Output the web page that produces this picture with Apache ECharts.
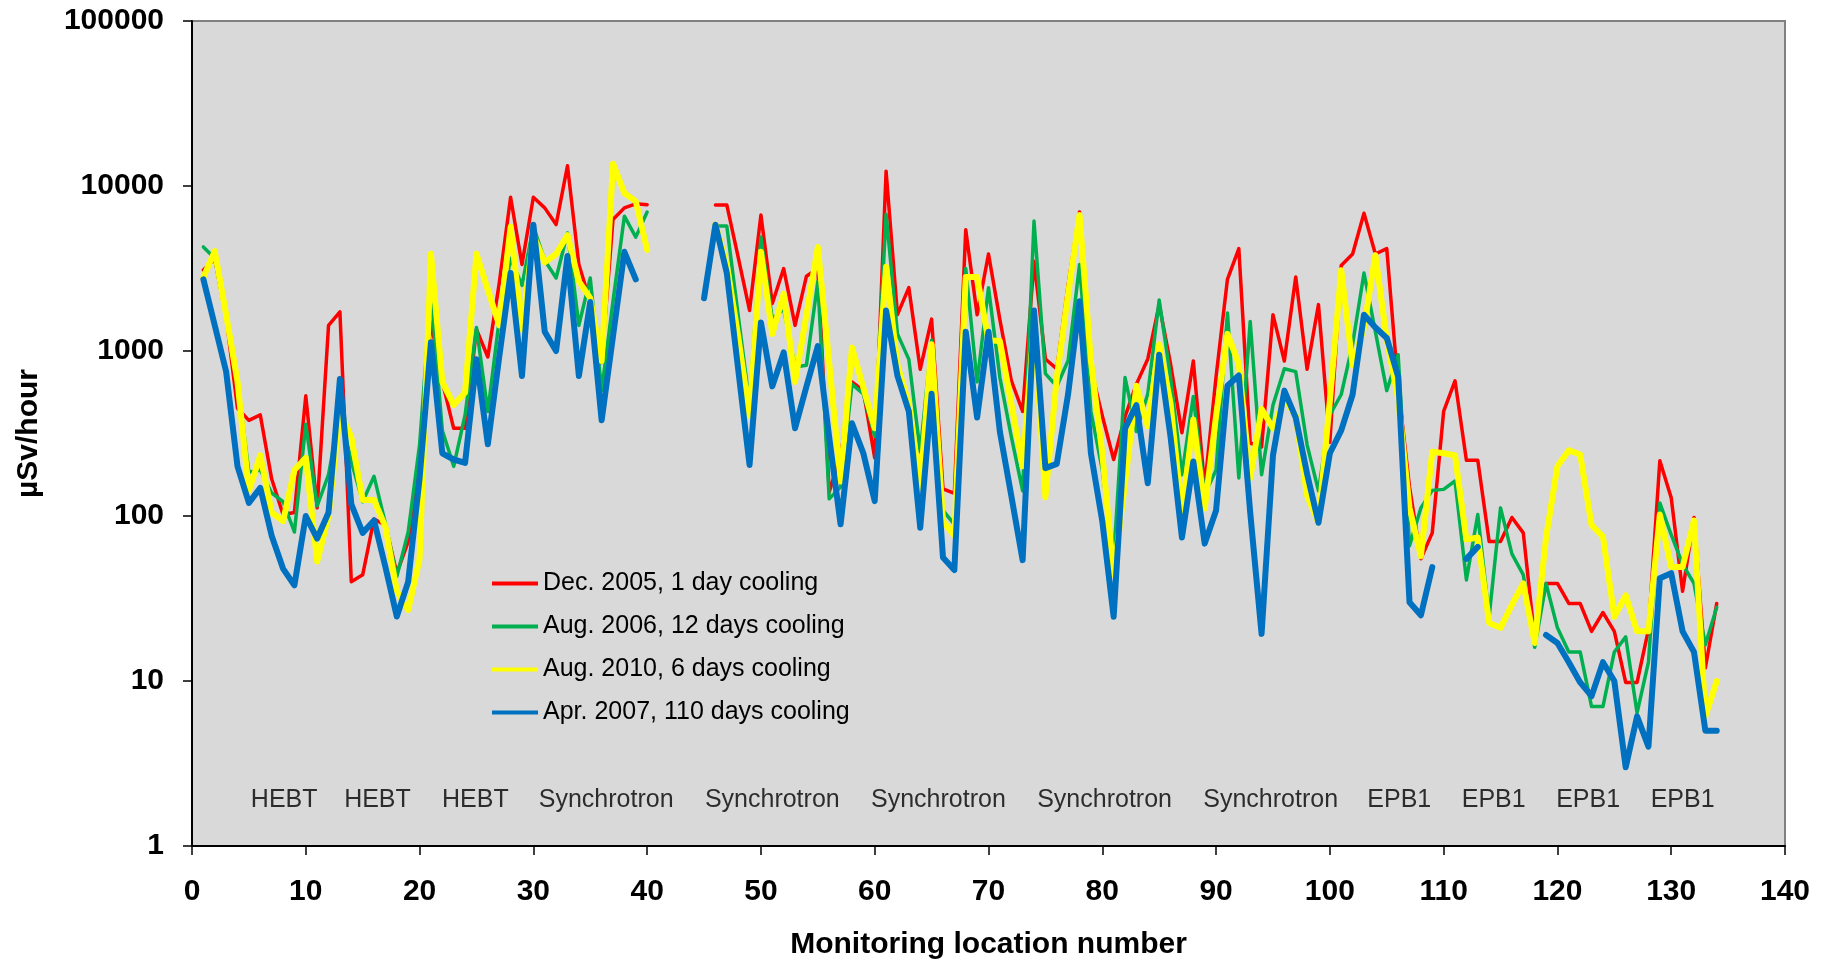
<!DOCTYPE html>
<html>
<head>
<meta charset="utf-8">
<script src="https://cdn.jsdelivr.net/npm/echarts@6/dist/echarts.min.js"></script>
<style>
  html, body { margin: 0; padding: 0; background: #ffffff; }
  #chart { width: 1825px; height: 962px; }
</style>
</head>
<body>
<div id="chart"></div>
<script>
// Dose rate (µSv/hour) at monitoring locations 1..134; null = not measured.
const dec2005 = [
  3100, 3600, 1600, 450, 380, 410, 168, 102, 105, 535,
  112, 1430, 1725, 40, 44, 96, 88, 45, 70, 230,
  1500, 650, 340, 340, 1350, 920, 2570, 8540, 3340, 8540,
  7370, 5840, 13250, 3340, 1980, 850, 6270, 7370, 7800, 7700,
  null, null, null, null, null, 7680, 7680, 3700, 1760, 6670,
  1940, 3160, 1430, 2840, 3160, 140, 230, 650, 575, 225,
  12300, 1660, 2420, 775, 1560, 146, 137, 5430, 1660, 3870,
  1550, 665, 430, 3500, 895, 780, 2520, 6950, 780, 405,
  220, 400, 630, 895, 1910, 835, 320, 870, 150, 700,
  2720, 4170, 277, 262, 1660, 870, 2810, 775, 1910, 280,
  3300, 3870, 6840, 3870, 4170, 610, 150, 55, 79, 430,
  660, 218, 218, 70, 70, 98, 79, 18, 39, 39,
  29.5, 29.5, 20, 26, 20, 9.8, 9.8, 20.5, 216, 129,
  35, 98, 12, 29.5
];
const aug2006 = [
  4270, 3650, 1600, 650, 184, 190, 138, 122, 80, 360,
  115, 178, 430, 214, 122, 174, 90, 43, 80, 270,
  2230, 330, 200, 410, 1390, 430, 1550, 3650, 2500, 5670,
  3540, 2770, 5190, 1430, 2770, 575, 2000, 6560, 4900, 6950,
  null, null, null, null, null, 5730, 5730, 1650, 480, 4900,
  1560, 1800, 800, 820, 2640, 127, 150, 630, 550, 304,
  6750, 1270, 890, 245, 1160, 108, 89, 3160, 650, 2420,
  690, 304, 142, 6130, 730, 610, 875, 3340, 430, 190,
  55, 690, 325, 550, 2040, 690, 178, 530, 135, 190,
  1700, 170, 1510, 178, 470, 780, 750, 270, 142, 410,
  545, 1100, 2970, 1310, 575, 950, 66, 112, 143, 145,
  163, 41, 102, 24.5, 112, 59, 44, 16, 39, 21,
  15, 15, 7, 7, 15, 18.5, 6.4, 13, 120, 77,
  51, 39, 16.6, 28
];
const aug2010 = [
  2800, 4030, 1660, 650, 142, 233, 105, 93, 190, 225,
  53, 100, 430, 300, 125, 125, 86, 35, 27, 55,
  3880, 650, 470, 560, 3880, 2350, 1430, 5660, 1350, 5040,
  3450, 3870, 5040, 2640, 2090, 870, 13650, 9050, 8070, 4100,
  null, null, null, null, null, 5830, 3340, 1230, 405, 4000,
  1270, 2220, 650, 1650, 4270, 850, 162, 1050, 600, 340,
  3240, 815, 480, 150, 1100, 93, 76, 2810, 2810, 1160,
  1150, 480, 200, 1460, 130, 690, 2220, 6670, 870, 240,
  44, 159, 615, 350, 1100, 480, 105, 385, 111, 405,
  1270, 835, 170, 445, 340, 515, 405, 133, 91, 500,
  3090, 820, 1390, 3810, 1170, 515, 112, 57, 245, 240,
  233, 72, 74, 22.5, 21, 29, 39, 17, 74, 200,
  250, 236, 88, 75, 24.5, 33, 20, 20, 102, 49,
  49, 94, 6.1, 10
];
const apr2007 = [
  2720, 1430, 750, 200, 120, 148, 76, 48, 38, 100,
  73, 105, 676, 118, 79, 94, 49, 24.6, 40, 169,
  1130, 240, 220, 210, 890, 272, 920, 2970, 706, 5830,
  1310, 1000, 3760, 706, 1980, 380, 1230, 3990, 2720, null,
  null, null, null, null, 2090, 5830, 2970, 775, 204, 1490,
  610, 980, 340, 610, 1070, 300, 89, 365, 240, 123,
  1760, 706, 430, 85, 550, 56, 47, 1310, 395, 1310,
  324, 133, 54, 1760, 195, 207, 550, 2000, 240, 93,
  24.5, 340, 470, 158, 950, 302, 74, 214, 68, 108,
  615, 710, 105, 19.3, 233, 575, 395, 180, 91, 240,
  330, 545, 1660, 1390, 1200, 700, 30, 25, 49, null,
  null, 55, 65, null, null, null, null, null, 19, 17,
  13, 9.8, 8.1, 13, 10, 3.0, 6.1, 4.0, 42, 45,
  20, 15, 5.0, 5.0
];

const seriesNames = [
  'Dec. 2005, 1 day cooling',
  'Aug. 2006, 12 days cooling',
  'Aug. 2010, 6 days cooling',
  'Apr. 2007, 110 days cooling'
];

// Beamline sections written along the bottom of the plot
const regionNames = ['HEBT', 'HEBT', 'HEBT', 'Synchrotron', 'Synchrotron', 'Synchrotron',
  'Synchrotron', 'Synchrotron', 'EPB1', 'EPB1', 'EPB1', 'EPB1'];
const regionCenters = [8.1, 16.3, 24.9, 36.4, 51.0, 65.6, 80.2, 94.8, 106.1, 114.4, 122.7, 131.0];
const regionLevel = 1.9;

const yTicks = [1, 10, 100, 1000, 10000, 100000];

const FONT = '"Liberation Sans", Arial, sans-serif';

function toPairs(values) {
  return values.map((v, i) => [i + 1, v == null ? '-' : v]);
}

const colors = ['#FF0000', '#00B050', '#FFFF00', '#0070C0'];
const widths = [3.5, 3.5, 6, 6];
const allValues = [dec2005, aug2006, aug2010, apr2007];

const lineSeries = allValues.map((vals, k) => ({
  name: seriesNames[k],
  type: 'line',
  data: toPairs(vals),
  symbol: 'none',
  connectNulls: false,
  z: 2 + k,
  color: colors[k],
  lineStyle: { color: colors[k], width: widths[k], join: 'round', cap: 'round' },
  emphasis: { disabled: true },
  animation: false
}));

const regionSeries = {
  type: 'scatter',
  data: regionCenters.map((x, i) => ({ value: [x, regionLevel], name: regionNames[i] })),
  symbolSize: 1,
  itemStyle: { color: 'rgba(0,0,0,0)' },
  label: {
    show: true,
    position: 'inside',
    formatter: p => p.name,
    fontFamily: FONT,
    fontSize: 25,
    color: '#000000'
  },
  silent: true,
  z: 10,
  animation: false
};

const chart = echarts.init(document.getElementById('chart'), null, { renderer: 'canvas' });
chart.setOption({
  backgroundColor: '#ffffff',
  animation: false,
  textStyle: { fontFamily: FONT },
  grid: {
    left: 192, right: 40, top: 21, bottom: 116,
    outerBoundsMode: 'none',
    containLabel: false,
    show: true,
    backgroundColor: '#D9D9D9',
    borderColor: '#808080',
    borderWidth: 2
  },
  legend: {
    data: seriesNames,
    orient: 'vertical',
    left: 487,
    top: 566,
    itemWidth: 46,
    itemHeight: 4,
    itemGap: 18,
    icon: 'rect',
    textStyle: { fontFamily: FONT, fontSize: 25, color: '#000000', padding: [0, 0, 0, 0], lineHeight: 25 },
    selectedMode: false
  },
  xAxis: {
    type: 'value',
    min: 0, max: 140, interval: 10,
    name: 'Monitoring location number',
    nameLocation: 'middle',
    nameGap: 84,
    nameTextStyle: { fontFamily: FONT, fontSize: 30, fontWeight: 'bold', color: '#000000' },
    axisLine: { show: true, onZero: false, lineStyle: { color: '#000000', width: 2 } },
    axisTick: { show: true, inside: false, length: 9, lineStyle: { color: '#000000', width: 1.5 } },
    axisLabel: { margin: 31, fontFamily: FONT, fontSize: 30, fontWeight: 'bold', color: '#000000' },
    splitLine: { show: false }
  },
  yAxis: {
    type: 'log',
    logBase: 10,
    min: yTicks[0], max: yTicks[yTicks.length - 1],
    name: 'µSv/hour',
    nameLocation: 'middle',
    nameRotate: 90,
    nameGap: 148,
    nameTextStyle: { fontFamily: FONT, fontSize: 30, fontWeight: 'bold', color: '#000000' },
    axisLine: { show: true, onZero: false, lineStyle: { color: '#000000', width: 2 } },
    axisTick: { show: true, inside: false, length: 9, lineStyle: { color: '#000000', width: 1.5 } },
    axisLabel: {
      margin: 28, fontFamily: FONT, fontSize: 30, fontWeight: 'bold', color: '#000000',
      formatter: v => String(Math.round(v))
    },
    minorTick: { show: false },
    splitLine: { show: false }
  },
  series: [...lineSeries, regionSeries]
});
</script>
</body>
</html>
